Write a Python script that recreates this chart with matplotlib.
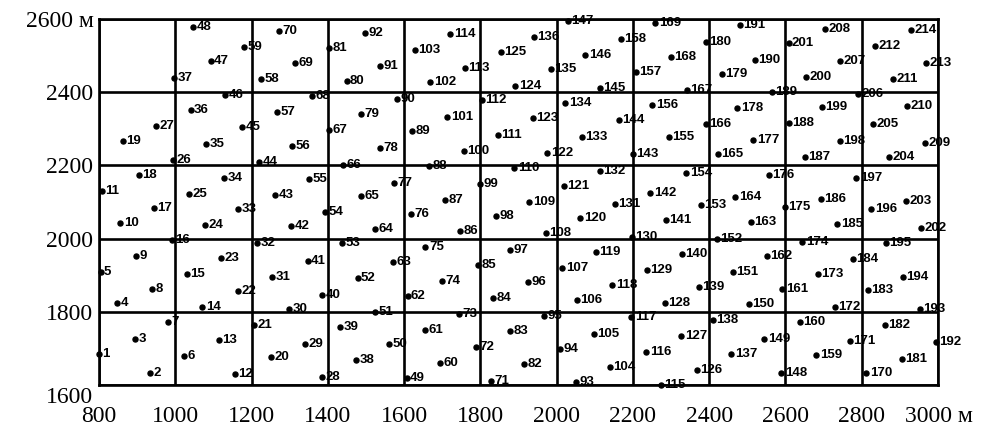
import matplotlib
matplotlib.use('Agg')
import matplotlib.pyplot as plt
from matplotlib.transforms import ScaledTranslation

point_ids = list(range(1, 215))
x_m = [800, 934, 894, 847, 804, 1024, 980, 940, 896, 856,
       807, 1157, 1114, 1071, 1030, 991, 944, 904, 862, 1252,
       1207, 1165, 1119, 1077, 1035, 993, 949, 1384, 1340, 1298,
       1254, 1214, 1165, 1128, 1081, 1040, 997, 1475, 1432, 1386,
       1347, 1303, 1261, 1219, 1176, 1130, 1093, 1046, 1607, 1561,
       1523, 1478, 1438, 1393, 1350, 1307, 1266, 1225, 1180, 1694,
       1655, 1609, 1570, 1523, 1488, 1441, 1402, 1359, 1313, 1273,
       1827, 1788, 1745, 1700, 1656, 1618, 1573, 1536, 1488, 1449,
       1403, 1915, 1877, 1833, 1795, 1747, 1708, 1665, 1622, 1581,
       1537, 1497, 2051, 2009, 1967, 1924, 1878, 1840, 1799, 1756,
       1713, 1669, 1629, 2140, 2097, 2053, 2015, 1971, 1928, 1889,
       1846, 1803, 1760, 1721, 2274, 2235, 2196, 2146, 2103, 2062,
       2019, 1976, 1937, 1892, 1853, 2368, 2327, 2283, 2237, 2198,
       2152, 2114, 2066, 2023, 1984, 1941, 2458, 2410, 2373, 2329,
       2287, 2246, 2200, 2163, 2114, 2075, 2030, 2589, 2545, 2504,
       2462, 2420, 2378, 2340, 2294, 2251, 2207, 2168, 2681, 2637,
       2592, 2552, 2510, 2469, 2423, 2391, 2342, 2300, 2259, 2812,
       2768, 2729, 2685, 2644, 2599, 2557, 2516, 2474, 2434, 2392,
       2905, 2860, 2816, 2777, 2736, 2692, 2650, 2608, 2564, 2519,
       2481, 2994, 2952, 2908, 2864, 2825, 2786, 2742, 2696, 2654,
       2608, 2956, 2917, 2871, 2829, 2790, 2742, 2705, 2965, 2919,
       2882, 2836, 2969, 2930]
y_m = [1686, 1633, 1726, 1823, 1908, 1679, 1771, 1862, 1953, 2042,
       2130, 1631, 1723, 1812, 1903, 1995, 2084, 2173, 2266, 1677,
       1764, 1858, 1946, 2036, 2123, 2215, 2307, 1623, 1713, 1809,
       1896, 1989, 2080, 2165, 2259, 2352, 2440, 1668, 1759, 1847,
       1939, 2034, 2118, 2210, 2305, 2391, 2484, 2577, 1620, 1711,
       1800, 1891, 1989, 2073, 2162, 2253, 2347, 2435, 2523, 1661,
       1750, 1842, 1935, 2025, 2117, 2201, 2298, 2389, 2479, 2568,
       1611, 1704, 1795, 1885, 1977, 2068, 2153, 2248, 2341, 2431,
       2521, 1657, 1748, 1838, 1929, 2021, 2105, 2199, 2293, 2381,
       2472, 2562, 1609, 1697, 1788, 1881, 1969, 2063, 2148, 2238,
       2333, 2428, 2514, 1650, 1740, 1833, 1921, 2014, 2100, 2193,
       2284, 2380, 2466, 2560, 1600, 1691, 1785, 1872, 1964, 2057,
       2144, 2234, 2329, 2417, 2509, 1642, 1735, 1823, 1915, 2005,
       2094, 2185, 2278, 2370, 2463, 2551, 1685, 1777, 1869, 1959,
       2050, 2125, 2232, 2324, 2412, 2503, 2595, 1633, 1727, 1820,
       1909, 2000, 2092, 2179, 2278, 2364, 2456, 2546, 1682, 1772,
       1861, 1953, 2045, 2114, 2230, 2312, 2407, 2497, 2590, 1633,
       1720, 1812, 1903, 1992, 2087, 2174, 2269, 2357, 2451, 2537,
       1671, 1763, 1860, 1944, 2039, 2109, 2224, 2316, 2401, 2488,
       2583, 1717, 1809, 1896, 1989, 2082, 2165, 2266, 2360, 2442,
       2534, 2028, 2103, 2222, 2314, 2394, 2486, 2574, 2262, 2361,
       2437, 2525, 2481, 2571]

x_ticks = [800, 1000, 1200, 1400, 1600, 1800, 2000, 2200, 2400, 2600, 2800, 3000]
x_tick_labels = ['800', '1000', '1200', '1400', '1600', '1800', '2000', '2200',
                 '2400', '2600', '2800', '3000 м']
y_ticks = [1600, 1800, 2000, 2200, 2400, 2600]
y_tick_labels = ['1600', '1800', '2000', '2200', '2400', '2600 м']

fig = plt.figure(figsize=(9.86, 4.34), dpi=100)
ax = fig.add_axes([99 / 986, 49 / 434, (938 - 99) / 986, (385 - 19) / 434])
ax.set_xlim(800, 3000)
ax.set_ylim(1600, 2600)

ax.set_xticks(x_ticks)
ax.set_yticks(y_ticks)
ax.grid(True, color='black', linewidth=1.9)
ax.set_axisbelow(True)
for s in ax.spines.values():
    s.set_linewidth(1.9)
ax.tick_params(length=0, labelsize=17, pad=4)
ax.tick_params(axis='x', pad=15)
ax.set_xticklabels(x_tick_labels, fontfamily='Liberation Serif')
ax.set_yticklabels(y_tick_labels, fontfamily='Liberation Serif')

# fine-tune a few label offsets
xl = ax.get_xticklabels()
xl[-1].set_horizontalalignment('left')
xl[-1].set_transform(xl[-1].get_transform() + ScaledTranslation(-33 / 100, 0, fig.dpi_scale_trans))
yl = ax.get_yticklabels()
yl[0].set_transform(yl[0].get_transform() + ScaledTranslation(0, -10 / 100, fig.dpi_scale_trans))

ax.scatter(x_m, y_m, s=13, color='black', zorder=3, clip_on=False)
for pid, xv, yv in zip(point_ids, x_m, y_m):
    ax.annotate(str(pid), (xv, yv), xytext=(2.5, 0), textcoords='offset points',
                ha='left', va='center', fontsize=9.5, fontweight='bold',
                fontfamily='Liberation Sans', color='black', zorder=4,
                annotation_clip=False)

fig.savefig('out.png', dpi=100)
